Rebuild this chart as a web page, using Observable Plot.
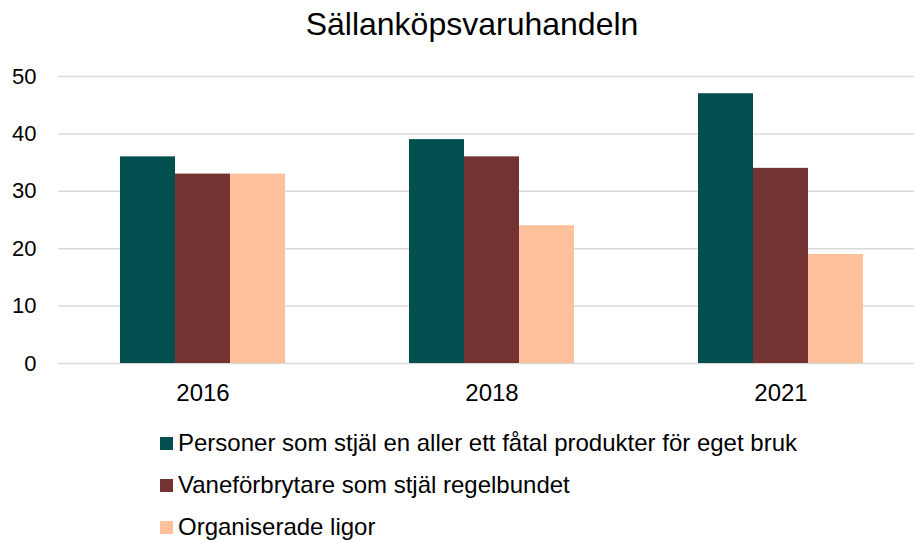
<!DOCTYPE html>
<html>
<head>
<meta charset="utf-8">
<script src="https://cdn.jsdelivr.net/npm/d3@7"></script>
<script src="https://cdn.jsdelivr.net/npm/@observablehq/plot@0.6"></script>
<style>
  html, body { margin: 0; padding: 0; background: #fff; }
  body { width: 914px; height: 540px; position: relative; overflow: hidden;
         font-family: "Liberation Sans", Arial, sans-serif; color: #000; }
  #title { position: absolute; left: 0; top: 4px; width: 944px; text-align: center;
           font-size: 32px; line-height: 40px; }
  #chart { position: absolute; left: 0; top: 50px; }
  #legend { position: absolute; left: 160px; top: 422px; }
  .item { display: flex; align-items: center; height: 42px; font-size: 24px; line-height: 28px; }
  .sw { width: 13px; height: 13px; margin-right: 5px; flex: none; }
</style>
</head>
<body>
<div id="title">Sällanköpsvaruhandeln</div>
<div id="chart"></div>
<div id="legend"></div>
<script>
const years = ["2016", "2018", "2021"];
const seriesNames = [
  "Personer som stjäl en aller ett fåtal produkter för eget bruk",
  "Vaneförbrytare som stjäl regelbundet",
  "Organiserade ligor"
];
const personer = [36, 39, 47];
const vanefor = [33, 36, 34];
const ligor = [33, 24, 19];
const colors = ["#024F4F", "#733333", "#FFC19B"];
const yTicks = [0, 10, 20, 30, 40, 50];

const seriesValues = [personer, vanefor, ligor];
const data = years.flatMap((yr, i) =>
  seriesNames.map((s, j) => ({year: yr, series: s, value: seriesValues[j][i]}))
);

const chart = Plot.plot({
  width: 914,
  height: 365,
  marginLeft: 58,
  marginRight: 0,
  marginTop: 26,
  marginBottom: 52,
  style: {fontFamily: "'Liberation Sans', Arial, sans-serif", fontSize: "22px", color: "#000", background: "transparent"},
  fx: {domain: years, range: [57.5, 924.5], padding: 0, label: null},
  x: {domain: seriesNames, paddingInner: 0, paddingOuter: 1.095, axis: null},
  y: {domain: [0, 50], label: null},
  color: {domain: seriesNames, range: colors},
  marks: [
    Plot.gridY(yTicks, {stroke: "#D9D9D9", strokeOpacity: 1, strokeWidth: 1.5}),
    Plot.axisY(yTicks, {tickSize: 0, tickPadding: 22, fontSize: 22, label: null}),
    Plot.axisFx({anchor: "bottom", tickSize: 0, tickPadding: 20, fontSize: 24, label: null}),
    Plot.barY(data, {fx: "year", x: "series", y: "value", fill: "series"})
  ]
});
document.getElementById("chart").appendChild(chart);

const legend = document.getElementById("legend");
seriesNames.forEach((s, i) => {
  const item = document.createElement("div");
  item.className = "item";
  const sw = document.createElement("span");
  sw.className = "sw";
  sw.style.background = colors[i];
  const t = document.createElement("span");
  t.textContent = s;
  item.appendChild(sw);
  item.appendChild(t);
  legend.appendChild(item);
});
</script>
</body>
</html>
